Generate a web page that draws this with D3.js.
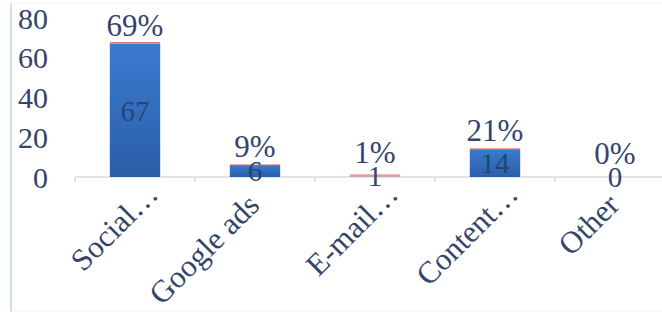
<!DOCTYPE html>
<html lang="en">
<head>
<meta charset="utf-8">
<title>Channels</title>
<script src="https://cdnjs.cloudflare.com/ajax/libs/d3/7.8.5/d3.min.js"></script>
<style>
  body { margin: 0; background: #fff; }
  svg text { font-family: "Liberation Serif", "Times New Roman", serif; fill: #35456a; }
</style>
</head>
<body>
<div id="chart"></div>
<script>
// data
var categories = ["Social…", "Google ads", "E-mail…", "Content…", "Other"];
var counts = [67, 6, 1, 14, 0];
var shares = [69, 9, 1, 21, 0];   // percent labels
var yTicks = [0, 20, 40, 60, 80];

var W = 662, H = 324;
var svg = d3.select("#chart").append("svg").attr("width", W).attr("height", H);

// frame
svg.append("line").attr("x1", 11).attr("x2", 11).attr("y1", 3).attr("y2", 312)
  .attr("stroke", "#cfe0ef").attr("stroke-width", 2);
svg.append("line").attr("x1", 11).attr("x2", W).attr("y1", 3).attr("y2", 3)
  .attr("stroke", "#eef2f7").attr("stroke-width", 1);
svg.append("line").attr("x1", 11).attr("x2", W).attr("y1", 311).attr("y2", 311)
  .attr("stroke", "#f2f2f2").attr("stroke-width", 1);

var x = d3.scaleBand().domain(categories).range([75, 675]).paddingInner(0.58).paddingOuter(0.29);
var y = d3.scaleLinear().domain([0, 80]).range([177, 18]);

var defs = svg.append("defs");
var grad = defs.append("linearGradient").attr("id", "bluegrad")
  .attr("x1", 0).attr("y1", 0).attr("x2", 0).attr("y2", 1);
grad.append("stop").attr("offset", "0%").attr("stop-color", "#3a7bcf");
grad.append("stop").attr("offset", "100%").attr("stop-color", "#2b5ea8");

// y labels (no axis line)
svg.selectAll(".ylab").data(yTicks).enter().append("text")
  .attr("class", "ylab")
  .attr("x", 48).attr("y", function(d) { return y(d); })
  .attr("dy", "0.35em").attr("text-anchor", "end")
  .attr("font-size", 30)
  .text(function(d) { return d; });

// x axis line with tick marks between categories
var step = x.step();
var tickPos = d3.range(categories.length + 1).map(function(i) { return 75 + i * step; });
svg.append("line").attr("x1", 75).attr("x2", W).attr("y1", y(0)).attr("y2", y(0))
  .attr("stroke", "#c8c8c8");
svg.selectAll(".tk").data(tickPos).enter().append("line")
  .attr("class", "tk")
  .attr("x1", function(d) { return d; }).attr("x2", function(d) { return d; })
  .attr("y1", y(0)).attr("y2", y(0) + 5)
  .attr("stroke", "#c8c8c8");

var rows = categories.map(function(c, i) { return { cat: c, n: counts[i], p: shares[i] }; });

// main bars
svg.selectAll(".bar").data(rows).enter().append("rect")
  .attr("class", "bar")
  .attr("x", function(d) { return x(d.cat); })
  .attr("width", x.bandwidth())
  .attr("y", function(d) { return y(d.n); })
  .attr("height", function(d) { return y(0) - y(d.n); })
  .attr("fill", function(d) { return d.n > 2 ? "url(#bluegrad)" : "#c9aaa8"; });

// thin stacked share segment on top
svg.selectAll(".seg").data(rows).enter().append("rect")
  .attr("class", "seg")
  .attr("x", function(d) { return x(d.cat); })
  .attr("width", x.bandwidth())
  .attr("y", function(d) { return y(d.n + d.p / 100) - 0.5; })
  .attr("height", function(d) { return d.p > 0 ? y(d.n) - y(d.n + d.p / 100) + 0.5 : 0; })
  .attr("fill", "#e27d78");

// value labels
function valY(d) { return (y(0) + y(d.n)) / 2; }
svg.selectAll(".val").data(rows).enter().append("text")
  .attr("class", "val")
  .attr("x", function(d) { return x(d.cat) + x.bandwidth() / 2; })
  .attr("y", valY)
  .attr("dy", "0.35em").attr("text-anchor", "middle")
  .attr("font-size", 29)
  .style("fill", function(d) { return d.n > 2 ? "#244577" : "#35456a"; })
  .text(function(d) { return d.n; });

// percent labels
svg.selectAll(".pct").data(rows).enter().append("text")
  .attr("class", "pct")
  .attr("x", function(d) { return x(d.cat) + x.bandwidth() / 2; })
  .attr("y", function(d) { return Math.min(y(d.n) - 19, valY(d) - 24); })
  .attr("dy", "0.35em").attr("text-anchor", "middle")
  .attr("font-size", 31)
  .text(function(d) { return d.p + "%"; });

// category labels rotated; truncated ones sit a little further right
svg.selectAll(".cat").data(categories).enter().append("text")
  .attr("class", "cat")
  .attr("text-anchor", "end")
  .attr("font-size", 31)
  .attr("transform", function(d) {
    var cut = d.slice(-1) === "…";
    var cx = x(d) + x.bandwidth() / 2 + (cut ? 25 : 6);
    var cy = y(0) + (cut ? 19 : 30);
    return "translate(" + cx + "," + cy + ") rotate(-45)";
  })
  .text(function(d) { return d; });
</script>
</body>
</html>
